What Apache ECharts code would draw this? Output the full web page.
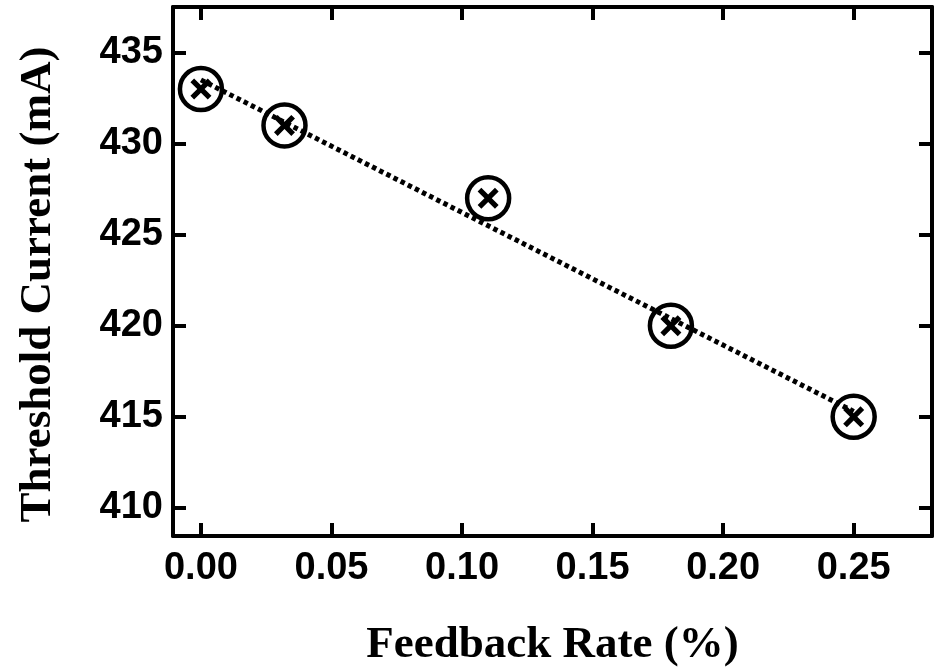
<!DOCTYPE html>
<html>
<head>
<meta charset="utf-8">
<script src="https://cdn.jsdelivr.net/npm/echarts@6/dist/echarts.min.js"></script>
<style>
  html, body { margin: 0; padding: 0; background: #fff; }
  #chart { width: 936px; height: 669px; }
</style>
</head>
<body>
<div id="chart"></div>
<script>
// Measured threshold current vs. optical feedback rate
const feedbackRate = [0, 0.032, 0.11, 0.18, 0.25];
const thresholdCurrent = [433, 431, 427, 420, 415];

// Least-squares trend line endpoints
const fitRate = [0, 0.25];
const fitCurrent = [433.5, 415.3];

// Axis ticks
const xTicks = [0, 0.05, 0.10, 0.15, 0.20, 0.25];
const yTicks = [410, 415, 420, 425, 430, 435];

const xMin = -0.0107, xMax = 0.28;
const yMin = 408.46, yMax = 437.5;

const points = feedbackRate.map((x, i) => [x, thresholdCurrent[i]]);
const fitPoints = fitRate.map((x, i) => [x, fitCurrent[i]]);

const crossPath = 'path://M3.5,0 L10,6.5 L16.5,0 L20,3.5 L13.5,10 L20,16.5 L16.5,20 L10,13.5 L3.5,20 L0,16.5 L6.5,10 L0,3.5 Z';

const lineStyle = { color: '#000', width: 4 };
const tickStyle = { color: '#000', width: 4 };
const tickFont = { fontFamily: 'Liberation Sans, Arial, sans-serif', fontWeight: 'bold', fontSize: 38, color: '#000' };
const titleFont = { fontFamily: 'Liberation Serif, Times New Roman, serif', fontWeight: 'bold', fontSize: 45, color: '#000' };

const chart = echarts.init(document.getElementById('chart'), null, { renderer: 'canvas' });
chart.setOption({
  backgroundColor: '#fff',
  animation: false,
  grid: { left: 173, right: 4, top: 7, bottom: 133, outerBoundsMode: 'none' },
  xAxis: [
    {
      type: 'value', position: 'bottom', min: xMin, max: xMax,
      axisLine: { show: true, onZero: false, lineStyle: lineStyle },
      axisTick: { show: true, inside: true, length: 13, lineStyle: tickStyle, customValues: xTicks },
      axisLabel: Object.assign({ customValues: xTicks, margin: 14, formatter: v => v.toFixed(2) }, tickFont),
      splitLine: { show: false },
      name: 'Feedback Rate (%)', nameLocation: 'middle', nameGap: 87,
      nameTextStyle: titleFont
    },
    {
      type: 'value', position: 'top', min: xMin, max: xMax,
      axisLine: { show: true, onZero: false, lineStyle: lineStyle },
      axisTick: { show: true, inside: true, length: 13, lineStyle: tickStyle, customValues: xTicks },
      axisLabel: { show: false },
      splitLine: { show: false }
    }
  ],
  yAxis: [
    {
      type: 'value', position: 'left', min: yMin, max: yMax,
      axisLine: { show: true, onZero: false, lineStyle: lineStyle },
      axisTick: { show: true, inside: true, length: 13, lineStyle: tickStyle, customValues: yTicks },
      axisLabel: Object.assign({ customValues: yTicks, margin: 10 }, tickFont),
      splitLine: { show: false },
      name: 'Threshold Current (mA)', nameLocation: 'middle', nameGap: 112, nameRotate: 90,
      nameTextStyle: Object.assign({ padding: [0, 26, 0, 0] }, titleFont)
    },
    {
      type: 'value', position: 'right', min: yMin, max: yMax,
      axisLine: { show: true, onZero: false, lineStyle: lineStyle },
      axisTick: { show: true, inside: true, length: 13, lineStyle: tickStyle, customValues: yTicks },
      axisLabel: { show: false },
      splitLine: { show: false }
    }
  ],
  series: [
    {
      type: 'line', data: fitPoints, xAxisIndex: 0, yAxisIndex: 0,
      showSymbol: false, silent: true, z: 1,
      lineStyle: { color: '#000', width: 5, type: [4.5, 3.5], cap: 'butt' }
    },
    {
      type: 'scatter', data: points, xAxisIndex: 0, yAxisIndex: 0, z: 2,
      symbol: 'circle', symbolSize: 42,
      itemStyle: { color: 'rgba(0,0,0,0)', borderColor: '#000', borderWidth: 4.5, opacity: 1 }
    },
    {
      type: 'scatter', data: points, xAxisIndex: 0, yAxisIndex: 0, z: 3,
      symbol: crossPath, symbolSize: 21,
      itemStyle: { color: '#000', opacity: 1 }
    }
  ]
});
</script>
</body>
</html>
